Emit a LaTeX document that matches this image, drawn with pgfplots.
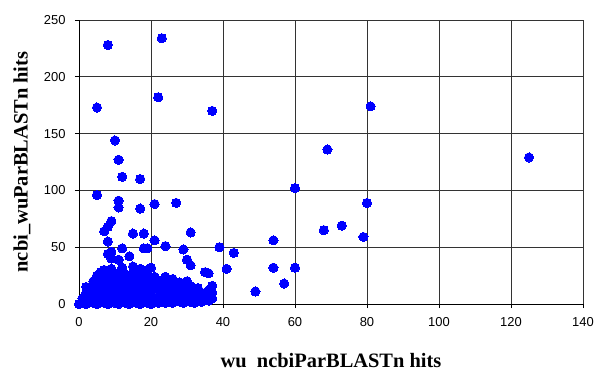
\documentclass[border=0pt]{standalone}
\usepackage{pgfplots}
\pgfplotsset{compat=1.18}
\usepackage{fontspec}
\setmainfont{Liberation Sans}
\newfontfamily\labelfont{Liberation Serif}
\begin{document}
\begin{tikzpicture}
\path[use as bounding box] (-79bp,-64bp) rectangle (516bp,304bp);
\begin{axis}[
  at={(0,0)}, anchor=south west,
  scale only axis, width=504bp, height=284bp,
  xmin=0, xmax=140, ymin=0, ymax=250,
  xtick={0,20,...,140}, ytick={0,50,...,250},
  axis x line=bottom, axis y line=left,
  axis line style={-, black, line width=0.8pt},
  tick align=outside, major tick length=4bp,
  tick style={black, line width=0.8pt},
  grid=major,
  major grid style={black!80, line width=0.7pt},
  ticklabel style={font=\fontsize{13}{15}\selectfont},
  /pgf/number format/assume math mode=true,
  xticklabel style={yshift=-6bp},
  yticklabel style={xshift=-6bp},
  xlabel={\labelfont\bfseries wu\_ncbiParBLASTn hits},
  ylabel={\labelfont\bfseries ncbi\_wuParBLASTn hits},
  label style={font=\fontsize{20.5}{24}\selectfont},
  xlabel style={at={(axis description cs:0.5,-0.202)}, anchor=center},
  ylabel style={at={(axis description cs:-0.113,0.5)}, anchor=center},
  clip=false,
]
\addplot[only marks, mark=*, mark size=4.6bp, mark options={fill=blue, draw=blue, line width=0pt}]
coordinates {
(8,228) (23,234) (5,173) (22,182) (37,170) (10,144) (11,127) (12,112) (17,110)
(5,96) (11,91) (11,85) (17,84) (21,88) (27,89) (9,73) (8,68) (7,64) (8,55)
(15,62) (18,62) (31,63) (21,56) (24,51) (29,48) (39,50) (43,45) (12,49) (18,49)
(19,49) (9,46) (30,39) (81,174) (69,136) (125,129) (60,102) (80,89) (73,69)
(68,65) (79,59) (54,56) (54,32) (60,32) (57,18) (49,11) (41,31) (8,44) (9,40)
(11,39) (14,42) (31,34) (35,28) (36,27)
(0,0) (1,1) (2,0) (3,2) (4,1) (5,0) (6,2) (7,1) (8,0) (9,2) (10,1) (11,0) (12,2)
(13,1) (14,0) (15,2) (16,1) (17,0) (18,2) (19,1) (20,0) (21,2) (22,1) (23,3)
(24,1) (25,2) (26,1) (27,3) (28,2) (29,1) (30,3) (31,2) (32,1) (33,3) (34,2)
(35,4) (36,3) (37,5)
(1,5) (3,6) (5,5) (7,7) (9,5) (11,6) (13,5) (15,7) (17,5) (19,6) (21,5) (23,7)
(25,5) (27,6) (29,5) (31,7) (33,5) (35,6) (37,10)
(2,10) (4,12) (6,10) (8,11) (10,12) (12,10) (14,11) (16,12) (18,10) (20,11)
(22,12) (24,10) (26,11) (28,12) (30,10) (32,11) (34,10) (36,12) (37,16)
(2,15) (3,15) (5,16) (7,15) (9,17) (11,15) (13,16) (15,17) (17,15) (19,16) (21,17)
(23,15) (25,16) (27,17) (29,15) (31,16) (33,14)
(4,20) (6,21) (8,22) (10,20) (12,21) (14,22) (16,20) (18,21) (20,22) (22,20)
(24,21) (26,22) (28,19) (30,20)
(5,25) (6,28) (8,26) (10,27) (11,25) (13,26) (15,27) (17,25) (19,26) (21,24) (24,24)
(7,30) (9,31) (12,32) (15,33) (17,31) (19,30) (20,32)
};
\end{axis}
\end{tikzpicture}
\end{document}
